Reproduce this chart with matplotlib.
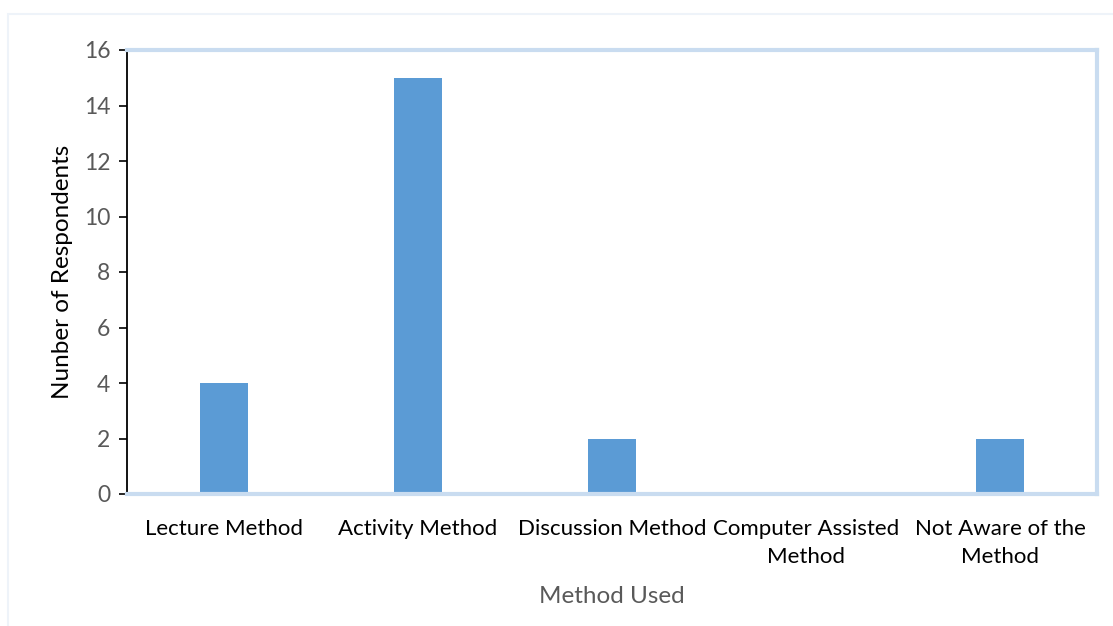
import matplotlib.pyplot as plt
from matplotlib.patches import Rectangle

methods = ["Lecture Method", "Activity Method", "Discussion Method",
           "Computer Assisted\nMethod", "Not Aware of the\nMethod"]
respondents = [4, 15, 2, 0, 2]
y_ticks = [0, 2, 4, 6, 8, 10, 12, 14, 16]

plt.rcParams['font.family'] = ['Lato', 'DejaVu Sans']

fig = plt.figure(figsize=(11.13, 6.26), dpi=100)
ax = fig.add_axes([127 / 1113, 1 - 494 / 626, 970 / 1113, 444 / 626])

x = range(len(methods))
ax.bar(x, respondents, width=0.25, color='#5b9bd5', zorder=2)

ax.set_xlim(-0.5, len(methods) - 0.5)
ax.set_ylim(0, 16)
ax.set_yticks(y_ticks)
ax.set_xticks(list(x))
ax.set_xticklabels(methods, fontsize=16, color='black', linespacing=1.5)
ax.tick_params(axis='y', labelsize=16.5, labelcolor='#595959', length=6,
               direction='out', width=1.2, pad=6)
ax.tick_params(axis='x', length=0, pad=18)

# light blue frame, black left axis
for side in ['top', 'right', 'bottom']:
    ax.spines[side].set_color('#c9dcf0')
    ax.spines[side].set_linewidth(3)
ax.spines['left'].set_color('black')
ax.spines['left'].set_linewidth(1.3)

ax.set_ylabel("Nunber of Respondents", fontsize=17.5, color='black', labelpad=8)
ax.set_xlabel("Method Used", fontsize=17.5, color='#595959', labelpad=14)

# faint outer chart border
fig.patches.append(Rectangle((8 / 1113, -0.05), 1.2, 1 - 14 / 626 + 0.05,
                             transform=fig.transFigure, fill=False,
                             edgecolor='#eef3f9', linewidth=1.5))

fig.savefig("out.png", dpi=100)
